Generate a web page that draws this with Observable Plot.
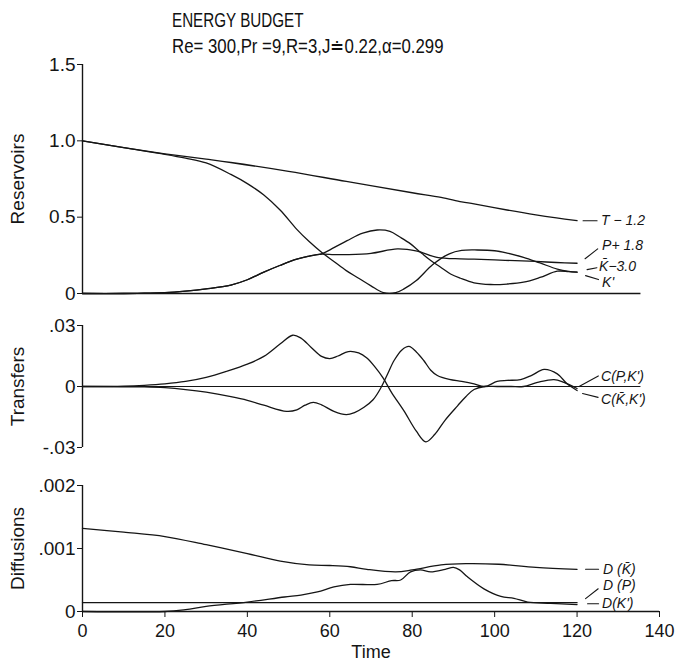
<!DOCTYPE html>
<html>
<head>
<meta charset="utf-8">
<script src="https://cdn.jsdelivr.net/npm/d3@7"></script>
<script src="https://cdn.jsdelivr.net/npm/@observablehq/plot@0.6"></script>
<style>
  html, body { margin: 0; padding: 0; background: #fff; }
  #root { position: relative; width: 677px; height: 661px; overflow: hidden; font-family: "Liberation Sans", Arial, sans-serif; color: #111; }
  .title { position: absolute; left: 172px; white-space: nowrap; font-family: "Liberation Sans", sans-serif; font-size: 20px; line-height: 1; transform-origin: 0 50%; }
  .panel { position: absolute; left: 0; }
</style>
</head>
<body>
<div id="root">
  <div class="title" id="t1" style="top:10px; transform: scaleX(0.76)">ENERGY BUDGET</div>
  <div class="title" id="t2" style="top:36px; transform: scaleX(0.84)">Re= 300,Pr =9,R=3,J≐0.22,α=0.299</div>
  <div class="panel" id="p1" style="top:54px"></div>
  <div class="panel" id="p2" style="top:300px"></div>
  <div class="panel" id="p3" style="top:460px"></div>
</div>
<script>
// ---------------- DATA ----------------
// Panel 1: Reservoirs
const tT    = [0, 10, 20, 30, 36, 50, 64, 80, 87, 92, 95, 103, 110, 115, 120];
const vT    = [1.0, 0.955, 0.915, 0.88, 0.858, 0.80, 0.734, 0.66, 0.63, 0.60, 0.587, 0.547, 0.515, 0.495, 0.477];

const tKbar = [0, 10, 20, 25, 30, 36, 40, 44, 48, 52, 55, 58, 61, 64, 67, 70, 73, 76, 78, 81, 85, 89, 92, 95.8, 100, 103, 107, 111, 115.2, 118, 120];
const vKbar = [1.0, 0.955, 0.912, 0.887, 0.855, 0.78, 0.72, 0.645, 0.545, 0.42, 0.34, 0.27, 0.21, 0.15, 0.10, 0.05, 0.006, 0.006, 0.03, 0.085, 0.19, 0.26, 0.282, 0.285, 0.28, 0.265, 0.237, 0.2, 0.16, 0.145, 0.14];

const tKp   = [0, 10, 15, 20, 25, 30, 36, 40, 44, 48, 52, 55, 58.2, 61, 64.2, 68, 71.5, 74.6, 77, 79.6, 82, 84.5, 86.9, 89.3, 91.7, 95, 99, 103, 107, 111, 115.2, 118, 120];
const vKp   = [0, 0, 0.002, 0.005, 0.015, 0.03, 0.055, 0.09, 0.14, 0.185, 0.225, 0.245, 0.262, 0.3, 0.346, 0.395, 0.416, 0.407, 0.37, 0.325, 0.27, 0.216, 0.172, 0.128, 0.10, 0.07, 0.059, 0.062, 0.074, 0.105, 0.146, 0.143, 0.14];

const tP    = [0, 10, 15, 20, 25, 30, 36, 40, 44, 48, 52, 55, 58.2, 61, 64.2, 70, 76.4, 81.2, 86, 91.7, 95, 100, 105, 110, 115, 120];
const vP    = [0, 0, 0.002, 0.005, 0.015, 0.03, 0.055, 0.09, 0.14, 0.185, 0.225, 0.245, 0.258, 0.255, 0.255, 0.263, 0.292, 0.277, 0.237, 0.227, 0.225, 0.22, 0.215, 0.21, 0.203, 0.198];

// Panel 2: Transfers
const tCK = [0, 10, 15, 20, 25, 30, 35, 40, 44, 48, 51, 53, 55.5, 58, 60, 62, 64.5, 67, 69, 71, 73, 75, 78, 81, 83.3, 85.5, 88, 91, 93, 95, 97.6, 100.6, 104, 107, 110.4, 114.4, 116.8, 120];
const vCK = [0, 0.0002, 0.0006, 0.0013, 0.0025, 0.0045, 0.0075, 0.011, 0.0148, 0.021, 0.0252, 0.0238, 0.0192, 0.0148, 0.0137, 0.015, 0.0172, 0.0165, 0.014, 0.0095, 0.004, -0.003, -0.012, -0.022, -0.0272, -0.0235, -0.0165, -0.0095, -0.005, -0.0015, 0, 0, 0, 0, 0.002, 0.0034, 0.002, -0.001];

const tCP = [0, 15, 20, 25, 30, 36, 40, 44, 49.5, 52, 54, 56, 58, 61, 64, 66, 68.3, 70.5, 72.3, 74, 75.6, 77.5, 79.2, 81, 82.8, 84.5, 86.1, 89, 92, 95, 97.6, 100.6, 103, 106.3, 109, 112, 115.2, 117.6, 120];
const vCP = [0, -0.0002, -0.0006, -0.0015, -0.0028, -0.005, -0.0068, -0.0092, -0.0122, -0.0115, -0.0092, -0.0078, -0.009, -0.0122, -0.0138, -0.0128, -0.0102, -0.0065, -0.001, 0.006, 0.0128, 0.018, 0.0197, 0.017, 0.0128, 0.008, 0.0054, 0.0035, 0.0025, 0.0013, 0, 0.0025, 0.003, 0.0034, 0.0055, 0.0084, 0.0062, 0.0013, -0.002];

// Panel 3: Diffusions
const tDK  = [0, 10, 20, 30, 40, 48, 55, 60, 65, 69, 76, 80, 87, 93, 101, 110, 120];
const vDK  = [0.00132, 0.00126, 0.00119, 0.00106, 0.00092, 0.0008, 0.00074, 0.00073, 0.00071, 0.00067, 0.00063, 0.00066, 0.00074, 0.00076, 0.00075, 0.0007, 0.00067];

const tDP  = [0, 20, 25, 30, 40, 49, 53, 57, 61, 65, 71.5, 75, 77.2, 79.6, 82, 84.5, 88, 90, 91.5, 93.4, 97.4, 101.5, 104.7, 108, 113.6, 120];
const vDP  = [0, 0, 0.00003, 0.00008, 0.00015, 0.00023, 0.00026, 0.00031, 0.00039, 0.00043, 0.00043, 0.00049, 0.0005, 0.00063, 0.00066, 0.00063, 0.00067, 0.0007, 0.00066, 0.00055, 0.00036, 0.00024, 0.00021, 0.00015, 0.00013, 0.00011];

const tDKp = [0, 120];
const vDKp = [0.00014, 0.00014];

// Axes
const xTicks = [0, 20, 40, 60, 80, 100, 120, 140];
const y1Ticks = [0, 0.5, 1.0, 1.5];
const y1Labels = ["0", "0.5", "1.0", "1.5"];
const y2Ticks = [-0.03, 0, 0.03];
const y2Labels = ["-.03", "0", ".03"];
const y3Ticks = [0, 0.001, 0.002];
const y3Labels = ["0", ".001", ".002"];
const baselineSpan = [0, 135.5];

// Series labels
const labels1 = ["T − 1.2", "P+ 1.8", "K\u0304−3.0", "K'"];
const labels2 = ["C(P,K')", "C(K\u0304,K')"];
const labels3 = ["D (K\u0304)", "D (P)", "D(K')"];

// ---------------- STYLE (leader/label offsets, px) ----------------
const ink = "#151515";
const FONT = "'Liberation Sans', Arial, sans-serif";
const leaderShape = { draw(context, l) { context.moveTo(0, 0); context.lineTo(0, -l); } };

function series(ts, vs) { return ts.map((t, i) => ({ t, v: vs[i] })); }
function lastPoint(ts, vs) { return [{ t: ts[ts.length - 1], v: vs[vs.length - 1] }]; }

function annotate(ts, vs, text, s) {
  const p = lastPoint(ts, vs);
  return [
    Plot.vector(p, { x: "t", y: "v", anchor: "start", length: s.len, rotate: s.rot, dx: s.ldx, dy: s.ldy, shape: leaderShape, stroke: ink, strokeWidth: 1.1 }),
    Plot.text(p, { x: "t", y: "v", text: () => text, dx: s.tdx, dy: s.tdy, textAnchor: "start", fontStyle: "italic", fontSize: 14, fill: ink })
  ];
}

function lineMark(ts, vs) {
  return Plot.line(series(ts, vs), { x: "t", y: "v", stroke: ink, strokeWidth: 1.3, curve: "catmull-rom" });
}

function fmt(ticks, labs) { return d => { const i = ticks.findIndex(t => Math.abs(t - d) < 1e-12); return i >= 0 ? labs[i] : ""; }; }

const common = {
  width: 677, marginLeft: 82, marginRight: 18,
  style: { fontFamily: FONT, fontSize: "19px", color: ink, background: "transparent", overflow: "visible" }
};

function yAxis(ticks, labs, label) {
  return Plot.axisY({ ticks, tickFormat: fmt(ticks, labs), tickSize: 5, tickPadding: 2, fontSize: 19, label, labelArrow: "none", labelAnchor: "center", labelOffset: 72 });
}

// Panel 1
const p1 = Plot.plot({
  ...common, height: 245, marginTop: 10, marginBottom: 6,
  x: { domain: [0, 140], axis: null },
  y: { domain: [0, 1.5] },
  marks: [
    yAxis(y1Ticks, y1Labels, "Reservoirs"),
    Plot.ruleX([0], { stroke: ink, strokeWidth: 1.4 }),
    Plot.ruleY([0], { x1: baselineSpan[0], x2: baselineSpan[1], stroke: ink, strokeWidth: 1.4 }),
    lineMark(tT, vT), lineMark(tKbar, vKbar), lineMark(tKp, vKp), lineMark(tP, vP),
    ...annotate(tT, vT, labels1[0], { len: 14, rot: 90, ldx: 6, ldy: 0, tdx: 24, tdy: 0 }),
    ...annotate(tP, vP, labels1[1], { len: 16, rot: 52, ldx: 8, ldy: -4.5, tdx: 25, tdy: -18 }),
    ...annotate(tKbar, vKbar, labels1[2], { len: 10, rot: 79, ldx: 10, ldy: -2.5, tdx: 22, tdy: -6 }),
    ...annotate(tKp, vKp, labels1[3], { len: 13.5, rot: 107, ldx: 8.5, ldy: 3.5, tdx: 25, tdy: 10.5 })
  ]
});
document.getElementById("p1").appendChild(p1);

// Panel 2
const p2 = Plot.plot({
  ...common, height: 155, marginTop: 25, marginBottom: 8,
  x: { domain: [0, 140], axis: null },
  y: { domain: [-0.03, 0.03] },
  marks: [
    yAxis(y2Ticks, y2Labels, "Transfers"),
    Plot.ruleX([0], { stroke: ink, strokeWidth: 1.4 }),
    Plot.ruleY([0], { x1: baselineSpan[0], x2: baselineSpan[1], stroke: ink, strokeWidth: 1.2 }),
    lineMark(tCK, vCK), lineMark(tCP, vCP),
    ...annotate(tCP, vCP, labels2[0], { len: 22, rot: 61, ldx: 2, ldy: -4, tdx: 24, tdy: -14 }),
    ...annotate(tCK, vCK, labels2[1], { len: 16, rot: 104, ldx: 5.5, ldy: 5, tdx: 24, tdy: 11 })
  ]
});
document.getElementById("p2").appendChild(p2);

// Panel 3
const p3 = Plot.plot({
  ...common, height: 201, marginTop: 25, marginBottom: 50,
  x: { domain: [0, 140] },
  y: { domain: [0, 0.002] },
  marks: [
    yAxis(y3Ticks, y3Labels, "Diffusions"),
    Plot.axisX({ ticks: xTicks, tickFormat: d => String(d), tickSize: 6, tickPadding: 7, fontSize: 18, label: "Time", labelArrow: "none", labelAnchor: "center", labelOffset: 46 }),
    Plot.ruleX([0], { stroke: ink, strokeWidth: 1.4 }),
    Plot.ruleY([0], { stroke: ink, strokeWidth: 1.4 }),
    lineMark(tDK, vDK), lineMark(tDP, vDP), lineMark(tDKp, vDKp),
    ...annotate(tDK, vDK, labels3[0], { len: 13, rot: 90, ldx: 8.5, ldy: 0, tdx: 26, tdy: 0 }),
    ...annotate(tDP, vDP, labels3[1], { len: 16, rot: 52, ldx: 8.5, ldy: -6, tdx: 26, tdy: -19 }),
    ...annotate(tDKp, vDKp, labels3[2], { len: 11, rot: 90, ldx: 10.5, ldy: 1, tdx: 25, tdy: 1 })
  ]
});
document.getElementById("p3").appendChild(p3);
</script>
</body>
</html>
